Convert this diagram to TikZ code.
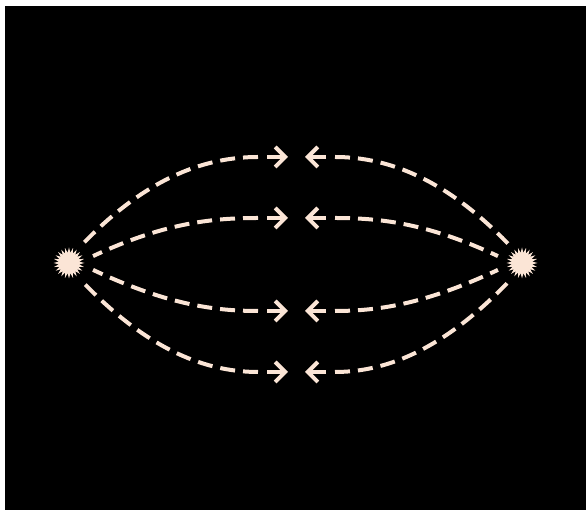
\documentclass[tikz,border=0pt]{standalone}
\usetikzlibrary{arrows.meta,shapes.geometric}
\definecolor{cream}{RGB}{251,229,214}
\begin{document}
\begin{tikzpicture}[x=1pt,y=1pt,
  charge/.style={star, star points=24, star point ratio=1.5, minimum size=31pt, inner sep=0pt, fill=cream, draw=none},
  field/.style={draw=cream, line width=4pt, dash pattern=on 15pt off 8pt, shorten <=30pt},
  tipline/.style={draw=cream, line width=4pt, line join=round, -{Straight Barb[length=10pt,width=20pt]}}]
\useasboundingbox (0,0) rectangle (586,510);
\fill[black] (5,0) rectangle (586,504);
% charges
\node[charge] (L) at (69,247) {};
\node[charge] (R) at (522,247) {};
\fill[cream] (L.center) circle (10);
\fill[cream] (R.center) circle (10);
% arrow tips
\coordinate (a1) at (288,353);
\coordinate (a2) at (288,292);
\coordinate (a3) at (288,199);
\coordinate (a4) at (288,138);
\coordinate (b1) at (305,353);
\coordinate (b2) at (305,292);
\coordinate (b3) at (305,199);
\coordinate (b4) at (305,138);
% field lines to the left charge (dashes start at the arrow end)
\draw[field] (a1) to[out=180,in=46] ([shift={(54:24)}]L.center);
\draw[field] (a2) to[out=180,in=25] ([shift={(16:25)}]L.center);
\draw[field] (a3) to[out=180,in=-25] ([shift={(-16:25)}]L.center);
\draw[field] (a4) to[out=180,in=-46] ([shift={(-54:24)}]L.center);
% field lines to the right charge
\draw[field] (b1) to[out=0,in=134] ([shift={(126:24)}]R.center);
\draw[field] (b2) to[out=0,in=155] ([shift={(164:25)}]R.center);
\draw[field] (b3) to[out=0,in=205] ([shift={(196:25)}]R.center);
\draw[field] (b4) to[out=0,in=226] ([shift={(234:24)}]R.center);
% arrows
\foreach \t in {a1,a2,a3,a4}
  \draw[tipline] ([xshift=-21pt]\t) -- (\t);
\foreach \t in {b1,b2,b3,b4}
  \draw[tipline] ([xshift=21pt]\t) -- (\t);
\end{tikzpicture}
\end{document}
